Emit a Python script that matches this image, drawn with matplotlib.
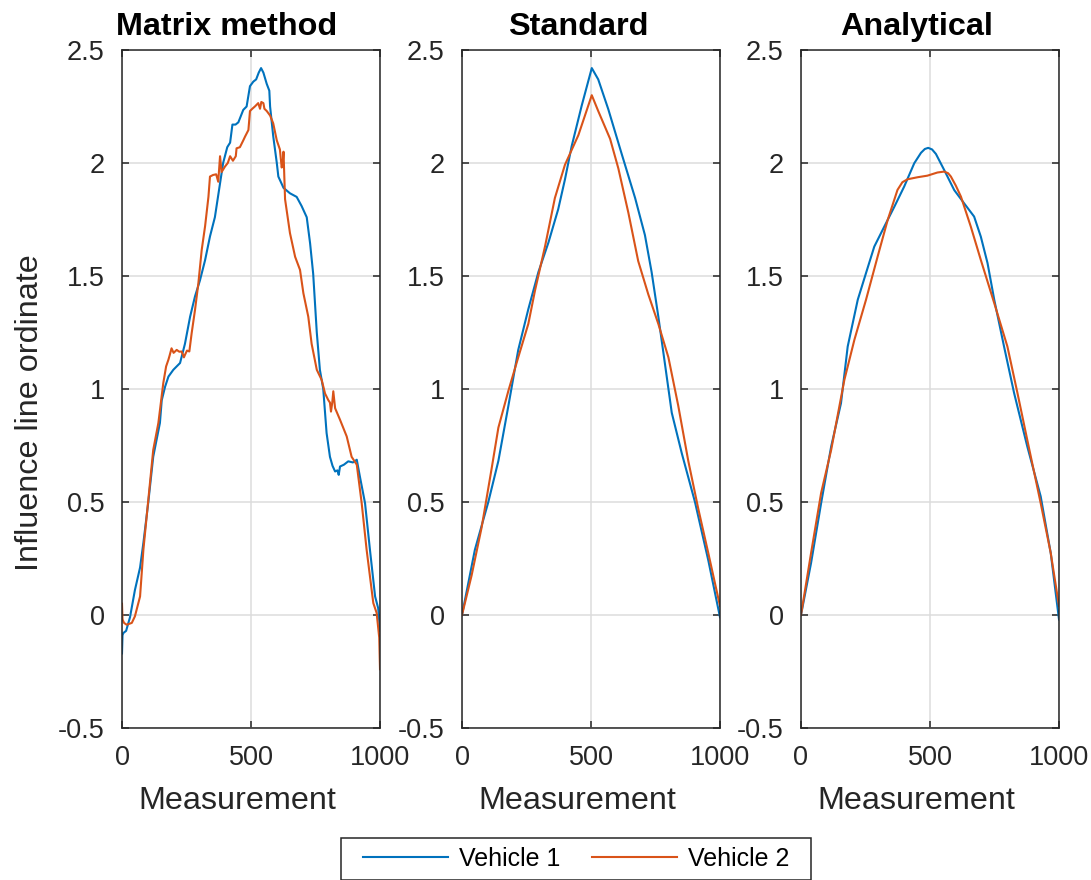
import numpy as np
import matplotlib
matplotlib.use('Agg')
import matplotlib.pyplot as plt
from matplotlib.patches import Rectangle

plt.rcParams['font.family'] = ['Liberation Sans', 'DejaVu Sans']

# Matrix method, vehicle 1 (measurement index, ordinate)
mat_x1 = [0, 2, 5, 16, 31, 50, 70, 83, 102, 121, 147, 154, 167, 180, 199, 225, 244,
          264, 283, 302, 322, 341, 360, 380, 392, 408, 419, 428, 440, 451, 470, 483,
          496, 509, 520, 530, 539, 548, 561, 571, 574, 586, 600, 606, 626, 651, 677,
          696, 716, 729, 741, 755, 767, 780, 793, 806, 816, 826, 835, 840, 845, 860,
          877, 895, 910, 922, 942, 961, 981, 993, 1000]
mat_y1 = [-0.17, -0.09, -0.08, -0.07, -0.01, 0.11, 0.21, 0.32, 0.50, 0.70, 0.85, 0.95,
          1.01, 1.055, 1.085, 1.115, 1.20, 1.32, 1.41, 1.48, 1.57, 1.675, 1.76, 1.91,
          2.00, 2.07, 2.09, 2.17, 2.17, 2.18, 2.235, 2.25, 2.34, 2.36, 2.37, 2.40,
          2.42, 2.40, 2.35, 2.32, 2.25, 2.12, 2.00, 1.94, 1.89, 1.866, 1.85, 1.81,
          1.76, 1.645, 1.51, 1.25, 1.085, 1.00, 0.805, 0.70, 0.66, 0.635, 0.64, 0.62,
          0.657, 0.665, 0.68, 0.675, 0.687, 0.613, 0.495, 0.289, 0.082, 0.03, -0.07]

# Matrix method, vehicle 2
mat_x2 = [0, 2, 8, 18, 38, 50, 70, 83, 102, 121, 141, 160, 171, 180, 185, 192, 200,
          212, 222, 231, 240, 244, 252, 261, 270, 283, 296, 309, 322, 335, 341, 353,
          365, 373, 380, 386, 399, 410, 419, 430, 441, 444, 457, 470, 477, 490, 496,
          505, 515, 528, 535, 540, 548, 552, 561, 574, 586, 600, 612, 619, 623, 626,
          632, 651, 671, 690, 703, 722, 735, 755, 774, 787, 800, 806, 810, 815, 819,
          826, 845, 871, 890, 910, 929, 948, 974, 987, 997, 1000]
mat_y2 = [0.05, -0.02, -0.035, -0.043, -0.035, -0.006, 0.082, 0.29, 0.51, 0.73, 0.85,
          1.026, 1.10, 1.13, 1.15, 1.18, 1.16, 1.173, 1.165, 1.166, 1.14, 1.151,
          1.17, 1.166, 1.247, 1.35, 1.468, 1.616, 1.72, 1.85, 1.94, 1.947, 1.95, 1.917,
          2.03, 1.96, 1.984, 2.00, 2.03, 2.01, 2.03, 2.065, 2.07, 2.10, 2.117, 2.146,
          2.23, 2.24, 2.25, 2.265, 2.24, 2.27, 2.265, 2.24, 2.23, 2.21, 2.176, 2.10,
          2.06, 1.98, 2.00, 2.05, 1.84, 1.69, 1.585, 1.527, 1.424, 1.32, 1.20, 1.085,
          1.04, 0.98, 0.95, 0.94, 0.90, 0.94, 0.99, 0.915, 0.864, 0.79, 0.70, 0.665,
          0.495, 0.29, 0.053, 0.009, -0.10, -0.24]

# Standard method
std_x1 = [0, 50, 102, 141, 180, 218, 257, 296, 335, 373, 399, 425, 464, 503, 528,
          567, 619, 671, 709, 735, 761, 787, 813, 852, 903, 955, 1000]
std_y1 = [0.0, 0.289, 0.50, 0.682, 0.927, 1.173, 1.353, 1.517, 1.648, 1.796, 1.927,
          2.074, 2.254, 2.42, 2.37, 2.238, 2.04, 1.845, 1.681, 1.517, 1.32, 1.108,
          0.895, 0.715, 0.50, 0.24, -0.01]
std_x2 = [0, 37, 76, 115, 141, 180, 218, 257, 283, 322, 360, 399, 451, 503, 528, 574,
          606, 645, 683, 722, 761, 800, 838, 877, 916, 955, 1000]
std_y2 = [0.0, 0.174, 0.387, 0.649, 0.829, 0.993, 1.14, 1.288, 1.436, 1.632, 1.845,
          1.992, 2.123, 2.30, 2.23, 2.107, 1.976, 1.779, 1.566, 1.419, 1.288, 1.14,
          0.927, 0.682, 0.469, 0.272, 0.04]

# Analytical method
ana_x1 = [0, 39, 78, 117, 155, 181, 220, 252, 284, 323, 362, 400, 439, 465, 480, 493,
          508, 523, 555, 594, 632, 671, 697, 723, 749, 787, 826, 877, 929, 968, 1000]
ana_y1 = [0.0, 0.23, 0.495, 0.746, 0.937, 1.188, 1.395, 1.513, 1.63, 1.719, 1.807,
          1.896, 1.999, 2.045, 2.062, 2.067, 2.06, 2.04, 1.969, 1.88, 1.822, 1.763,
          1.674, 1.557, 1.395, 1.188, 0.982, 0.746, 0.525, 0.274, -0.02]
ana_x2 = [0, 39, 78, 117, 168, 207, 252, 297, 336, 374, 393, 413, 452, 490, 529, 555,
          570, 581, 600, 620, 658, 697, 749, 800, 839, 877, 929, 968, 1000]
ana_y2 = [0.0, 0.274, 0.54, 0.731, 1.04, 1.218, 1.395, 1.586, 1.748, 1.881, 1.915,
          1.928, 1.937, 1.944, 1.958, 1.962, 1.955, 1.94, 1.90, 1.851, 1.719, 1.571,
          1.38, 1.188, 0.982, 0.775, 0.495, 0.274, 0.04]

titles = ['Matrix method', 'Standard', 'Analytical']
title_x = [0.407, 0.45, 0.45]
series = [(mat_x1, mat_y1, mat_x2, mat_y2),
          (std_x1, std_y1, std_x2, std_y2),
          (ana_x1, ana_y1, ana_x2, ana_y2)]

blue = '#0072BD'
orange = '#D95319'
axis_col = '#262626'

fig = plt.figure(figsize=(10.91, 8.8), dpi=100)
lefts = [122 / 1091, 462 / 1091, 801 / 1091]
axes = []
for i, left in enumerate(lefts):
    ax = fig.add_axes([left, 152 / 880, 258 / 1091, 678 / 880])
    x1, y1, x2, y2 = series[i]
    l1, = ax.plot(x1, y1, color=blue, lw=1.5, label='Vehicle 1')
    l2, = ax.plot(x2, y2, color=orange, lw=1.5, label='Vehicle 2')

    ax.set_xlim(0, 1000)
    ax.set_ylim(-0.5, 2.5)
    ax.set_xticks([0, 500, 1000])
    ax.set_yticks([-0.5, 0, 0.5, 1, 1.5, 2, 2.5])
    ax.set_yticklabels(['-0.5', '0', '0.5', '1', '1.5', '2', '2.5'])
    ax.grid(True, color='#dcdcdc', lw=1.1)
    ax.set_axisbelow(True)
    ax.tick_params(direction='in', length=5, width=1.1, colors=axis_col,
                   labelsize=19.5, top=True, right=True)
    ax.tick_params(axis='y', pad=12.5)
    ax.tick_params(axis='x', pad=12)
    for sp in ax.spines.values():
        sp.set_color(axis_col)
        sp.set_linewidth(1.1)

    ax.set_xlabel('Measurement', fontsize=23.3, color=axis_col)
    ax.xaxis.set_label_coords(0.448, -0.085)
    ax.set_title(titles[i], fontsize=23.3, fontweight='bold', x=title_x[i], pad=10.5)
    axes.append(ax)

axes[0].set_ylabel('Influence line ordinate', fontsize=23.3, color=axis_col)
axes[0].yaxis.set_label_coords(-0.30, 0.465)

# shared legend under the panels, with its own box
fig.add_artist(Rectangle((341 / 1091, 0.0), 470 / 1091, 42 / 880,
                         transform=fig.transFigure, facecolor='white',
                         edgecolor=axis_col, lw=1.1))
leg = fig.legend([l1, l2], ['Vehicle 1', 'Vehicle 2'], loc='center',
                 bbox_to_anchor=(576 / 1091, 21 / 880), ncol=2, fontsize=18,
                 frameon=False, handlelength=3.4, handletextpad=0.45,
                 columnspacing=1.25, borderpad=0.0)

fig.savefig('out.png', dpi=100)
